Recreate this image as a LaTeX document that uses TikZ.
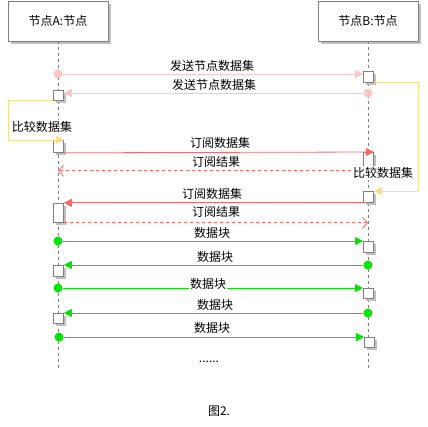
\documentclass[tikz,border=0pt]{standalone}
\usepackage{fontspec}
\newfontfamily\cjk{Noto Sans CJK SC}
\usetikzlibrary{arrows.meta,shadows}
\definecolor{boxgray}{RGB}{128,128,128}
\definecolor{shadowgray}{RGB}{192,192,192}
\definecolor{sendpink}{RGB}{255,196,196}
\definecolor{subred}{RGB}{255,102,102}
\definecolor{blockgreen}{RGB}{0,230,0}
\definecolor{loopyellow}{RGB}{255,221,136}
\begin{document}
\begin{tikzpicture}[x=1pt,y=-1pt,font=\cjk\fontsize{12}{14}\selectfont,
  obj/.style={draw=boxgray,fill=white,line width=0.8pt,minimum width=100pt,minimum height=40pt,inner sep=0pt,
    drop shadow={shadow xshift=3pt,shadow yshift=-3pt,fill=shadowgray,opacity=1}},
  act/.style={draw=boxgray,fill=white,line width=0.8pt,minimum width=10pt,minimum height=#1,inner sep=0pt,anchor=north west,
    drop shadow={shadow xshift=3pt,shadow yshift=-3pt,fill=shadowgray,opacity=1}},
  lifeline/.style={draw=boxgray,line width=0.6pt,dash pattern=on 3pt off 3pt},
  dot/.style={circle,fill=#1,inner sep=0pt,minimum size=9pt},
  msg/.style={draw=#1,line width=0.8pt,-{Triangle[length=8pt,width=8pt]}},
  reply/.style={draw=subred,line width=0.8pt,dash pattern=on 3pt off 3pt,-{Straight Barb[length=5pt,width=11pt]}},
  selfmsg/.style={draw=loopyellow,line width=0.8pt,-{Triangle[length=8pt,width=8pt]}},
  msglabel/.style={inner sep=1pt}]
  \useasboundingbox (0,0) rectangle (428,426);
  \node[obj] (nodeA) at (58,21) {节点A:节点};
  \node[obj] (nodeB) at (368,21) {节点B:节点};
  \coordinate (endA) at (58,371);
  \coordinate (endB) at (368,371);
  \draw[lifeline] (nodeA.south) -- (endA);
  \draw[lifeline] (nodeB.south) -- (endB);

  \node[act=11pt] (b1) at (363,71) {};
  \node[act=10pt] (a2) at (53,90) {};
  \node[act=12pt] (a3) at (53,140) {};
  \node[act=18pt] (b3) at (363,152) {};
  \node[act=11pt] (b4) at (363,191) {};
  \node[act=19pt] (a5) at (53,203) {};
  \node[act=11pt] (b7) at (363,241) {};
  \node[act=11pt] (a8) at (53,265) {};
  \node[act=10pt] (b9) at (363,288) {};
  \node[act=10pt] (a10) at (53,313) {};
  \node[act=10pt] (b11) at (364,337) {};

  \node[dot=sendpink] (a1) at (58,74) {};
  \node[dot=sendpink] (b2) at (368,93) {};
  \node[dot=blockgreen] (a7) at (58,241) {};
  \node[dot=blockgreen] (b8) at (368,265) {};
  \node[dot=blockgreen] (a9) at (58,288) {};
  \node[dot=blockgreen] (b10) at (368,313) {};
  \node[dot=blockgreen] (a11) at (59,337) {};

  \draw[msg=sendpink] (a1) -- (a1 -| b1.west);
  \node[msglabel] (l1) at (212,66) {发送节点数据集};
  \draw[msg=sendpink] (b2) -- (b2 -| a2.east);
  \node[msglabel] (l2) at (214,85) {发送节点数据集};
  \draw[selfmsg] (a2.south west) -- ++(-45,0) |- (a3.north east);
  \node[msglabel,fill=white] (l3) at (42,127) {比较数据集};
  \draw[msg=subred] (a3.south east) -- (b3.north east);
  \node[msglabel] (l4) at (220,143) {订阅数据集};
  \draw[reply] (b3.south west) -- (b3.south west -| nodeA);
  \node[msglabel] (l5) at (216,162) {订阅结果};
  \draw[selfmsg] (b1.south east) -- ++(45,0) |- (b4.north east);
  \node[msglabel,fill=white] (l6) at (383,173) {比较数据集};
  \draw[msg=subred] (b4.south west) -- (b4.south west -| a5.east);
  \node[msglabel] (l7) at (212,194) {订阅数据集};
  \draw[reply] (a5.south east) -- (a5.south east -| nodeB);
  \node[msglabel] (l8) at (216,212) {订阅结果};
  \draw[msg=blockgreen] (a7) -- (a7 -| b7.west);
  \node[msglabel] (l9) at (212,233) {数据块};
  \draw[msg=blockgreen] (b8) -- (b8 -| a8.east);
  \node[msglabel] (l10) at (215,257) {数据块};
  \draw[msg=blockgreen] (a9) -- (a9 -| b9.west);
  \node[msglabel,fill=white] (l11) at (208,284) {数据块};
  \draw[msg=blockgreen] (b10) -- (b10 -| a10.east);
  \node[msglabel] (l12) at (215,305) {数据块};
  \draw[msg=blockgreen] (a11) -- (a11 -| b11.west);
  \node[msglabel] (l13) at (212,328) {数据块};
  \node (more) at (209,362) {......};
  \node (caption) at (219,411) {图2.};
\end{tikzpicture}
\end{document}
